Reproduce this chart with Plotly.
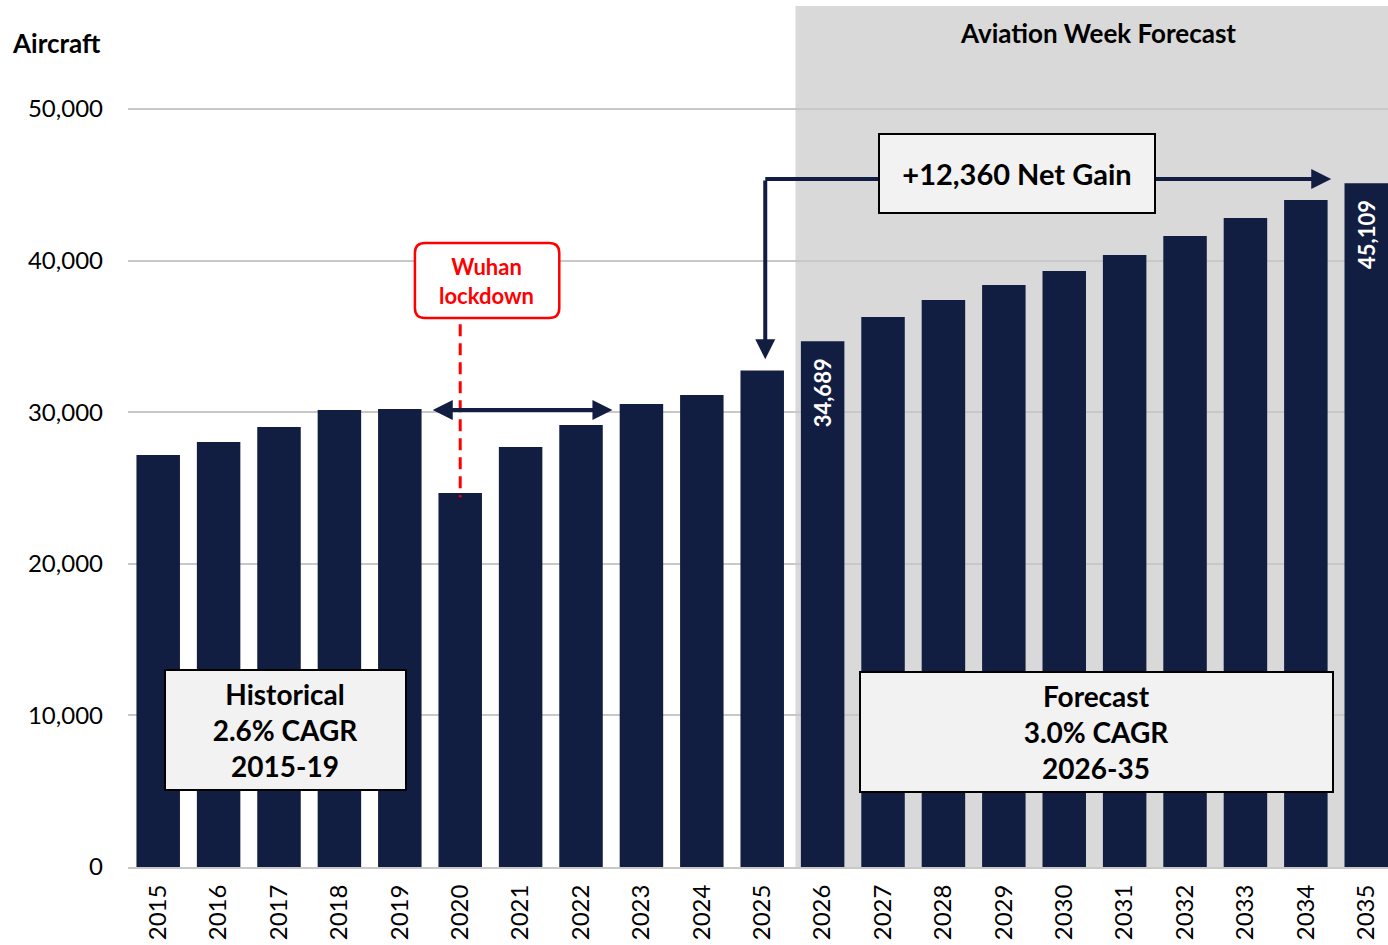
import plotly.graph_objects as go

years = list(range(2015, 2036))
year_labels = [str(y) for y in years]
aircraft = [27180, 28030, 29020, 30150, 30210, 24670, 27700, 29160, 30540, 31130,
            32749, 34689, 36280, 37400, 38390, 39310, 40370, 41620, 42810, 44000, 45109]
labelled_years = [2026, 2035]
y_ticks = [0, 10000, 20000, 30000, 40000, 50000]

NAVY = "#121d42"
SHADE = "#d9d9d9"
BOX_BG = "#f2f2f2"
FONT = "Lato"

fig = go.Figure()
fig.add_trace(go.Bar(
    x=years, y=aircraft, width=0.72,
    marker=dict(color=NAVY, line=dict(width=0)),
    hoverinfo="x+y",
))

shapes = [
    # forecast shading
    dict(type="rect", xref="x", yref="y", x0=2025.55, x1=2036, y0=0, y1=56800,
         fillcolor=SHADE, line=dict(width=0), layer="below"),
    # wuhan rounded box
    dict(type="path", xref="x", yref="y", layer="above",
         path=("M 2019.42,41160 L 2021.47,41160 Q 2021.64,41160 2021.64,40500 "
               "L 2021.64,36870 Q 2021.64,36210 2021.47,36210 "
               "L 2019.42,36210 Q 2019.25,36210 2019.25,36870 "
               "L 2019.25,40500 Q 2019.25,41160 2019.42,41160 Z"),
         fillcolor="white", line=dict(color="#ff0000", width=2.5)),
    # wuhan dashed line
    dict(type="line", xref="x", yref="y", x0=2020, x1=2020, y0=35800, y1=24400,
         line=dict(color="#ff0000", width=3, dash="12px,7px")),
    # net gain connector, left part
    dict(type="line", xref="x", yref="y", x0=2025.05, x1=2026.95, y0=45383, y1=45383,
         line=dict(color=NAVY, width=4)),
]

annotations = [
    dict(text="<b>Aircraft</b>", xref="paper", yref="y", x=-0.094, y=54354,
         xanchor="left", yanchor="middle", showarrow=False,
         font=dict(size=26, color="black")),
    dict(text="<b>Aviation Week Forecast</b>", xref="x", yref="y", x=2030.56, y=55013,
         showarrow=False, font=dict(size=26, color="black")),
    dict(text="<b>Wuhan<br>lockdown</b>", xref="x", yref="y", x=2020.44, y=38680,
         showarrow=False, font=dict(size=22, color="#ff0000")),
    # 2019 -> 2023 double arrow
    dict(text="", xref="x", yref="y", axref="x", ayref="y",
         x=2022.52, y=30150, ax=2019.52, ay=30150,
         showarrow=True, arrowhead=2, arrowside="end+start", arrowsize=1,
         arrowwidth=4, arrowcolor=NAVY, standoff=0, startstandoff=0),
    # net gain arrows
    dict(text="", xref="x", yref="y", axref="x", ayref="y",
         x=2025.05, y=33500, ax=2025.05, ay=45383,
         showarrow=True, arrowhead=2, arrowsize=1, arrowwidth=4, arrowcolor=NAVY),
    dict(text="", xref="x", yref="y", axref="x", ayref="y",
         x=2034.42, y=45383, ax=2031.45, ay=45383,
         showarrow=True, arrowhead=2, arrowsize=1, arrowwidth=4, arrowcolor=NAVY),
    dict(text="<b>+12,360 Net Gain</b>", xref="x", yref="y", x=2029.21, y=45780,
         showarrow=False, font=dict(size=29, color="black"),
         bgcolor=BOX_BG, bordercolor="black", borderwidth=2, borderpad=0,
         width=274, height=77),
    dict(text="<b>Historical</b><br><b>2.6% CAGR</b><br><b>2015-19</b>",
         xref="x", yref="y", x=2017.1, y=9070, showarrow=False,
         font=dict(size=28, color="black"),
         bgcolor=BOX_BG, bordercolor="black", borderwidth=2, borderpad=0,
         width=239, height=118),
    dict(text="<b>Forecast</b><br><b>3.0% CAGR</b><br><b>2026-35</b>",
         xref="x", yref="y", x=2030.54, y=8938, showarrow=False,
         font=dict(size=28, color="black"),
         bgcolor=BOX_BG, bordercolor="black", borderwidth=2, borderpad=0,
         width=471, height=118),
]

for yr in labelled_years:
    val = aircraft[years.index(yr)]
    annotations.append(dict(
        text=f"<b>{val:,}</b>", xref="x", yref="y", x=yr, y=val,
        yanchor="top", yshift=-15, textangle=-90, showarrow=False,
        font=dict(size=22, color="white"),
    ))

fig.update_layout(
    width=1388, height=945,
    margin=dict(l=128, r=0, t=6, b=78),
    paper_bgcolor="white", plot_bgcolor="white",
    font=dict(family=FONT, color="black"),
    showlegend=False, bargap=0.28,
    shapes=shapes, annotations=annotations,
)
fig.update_xaxes(
    range=[2014.5, 2035.36], tickmode="array", tickvals=years, ticktext=year_labels,
    tickangle=-90, tickfont=dict(size=24), showgrid=False,
    showline=True, linecolor="#c8c8c8", linewidth=2, ticks="",
    ticklabelstandoff=6,
)
fig.update_yaxes(
    range=[0, 56800], tickmode="array", tickvals=y_ticks,
    ticktext=[f"{v:,}" for v in y_ticks], tickfont=dict(size=24),
    showgrid=True, gridcolor="#c8c8c8", gridwidth=2, zeroline=False,
    ticklabelstandoff=24,
)

# the page body has a default 8px margin; drop it so the figure sits at 0,0
fig.write_html("out.html", config={"displayModeBar": False},
               post_script="document.body.style.margin='0';")
